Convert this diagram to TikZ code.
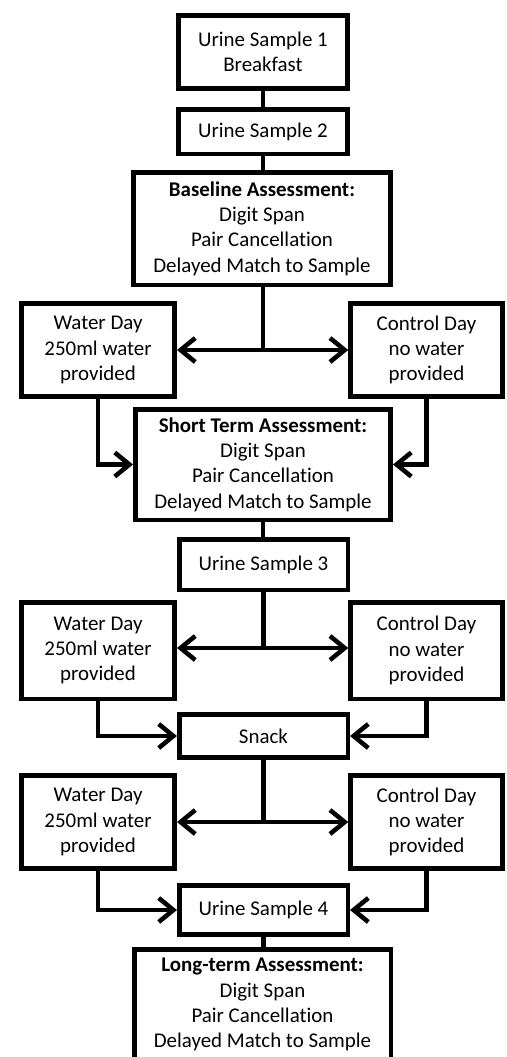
\documentclass[tikz,border=0pt]{standalone}
\usepackage{fontspec}
\setmainfont{Carlito}[Ligatures=NoCommon]
\usetikzlibrary{arrows.meta}
\begin{document}
\begin{tikzpicture}[x=0.75pt,y=-0.75pt,
  box/.style={draw=black, line width=3.4pt, align=center, inner sep=2pt,
    font=\fontsize{15.7pt}{19pt}\selectfont, text=black},
  conn/.style={line width=3.4pt, draw=black},
  arr/.style={conn, -{Straight Barb[length=11pt,width=18pt,line width=3.4pt]}}]
\useasboundingbox (0,0) rectangle (507,1057);
% nodes
\node[box, minimum width=127.1pt, minimum height=55.1pt] (n1) at (263,52) {Urine Sample 1\\Breakfast};
\node[box, minimum width=127.1pt, minimum height=33.4pt] (n2) at (263,131.5) {Urine Sample 2};
\node[box, minimum width=193.1pt, minimum height=84.4pt] (base) at (262,228.5) {\textbf{Baseline Assessment:}\\Digit Span\\Pair Cancellation\\Delayed Match to Sample};
\node[box, minimum width=115.1pt, minimum height=69.4pt] (w1) at (98,350) {Water Day\\250ml water\\provided};
\node[box, minimum width=114pt, minimum height=69.4pt] (c1) at (426.5,350) {Control Day\\no water\\provided};
\node[box, minimum width=191.6pt, minimum height=82.9pt] (short) at (263,464.5) {\textbf{Short Term Assessment:}\\Digit Span\\Pair Cancellation\\Delayed Match to Sample};
\node[box, minimum width=126.4pt, minimum height=37.9pt] (us3) at (263.5,564.5) {Urine Sample 3};
\node[box, minimum width=115.1pt, minimum height=72.4pt] (w2) at (98,650.5) {Water Day\\250ml water\\provided};
\node[box, minimum width=114pt, minimum height=72.4pt] (c2) at (426.5,650.5) {Control Day\\no water\\provided};
\node[box, minimum width=126.4pt, minimum height=32.6pt] (snack) at (263.5,736) {Snack};
\node[box, minimum width=115.1pt, minimum height=70.1pt] (w3) at (98,822) {Water Day\\250ml water\\provided};
\node[box, minimum width=114pt, minimum height=70.1pt] (c3) at (426.5,822) {Control Day\\no water\\provided};
\node[box, minimum width=126.4pt, minimum height=37.1pt] (us4) at (263.5,910) {Urine Sample 4};
\node[box, minimum width=192.4pt, minimum height=83pt, anchor=north] (long) at (262.5,947) {\textbf{Long-term Assessment:}\\Digit Span\\Pair Cancellation\\Delayed Match to Sample};
% straight connectors
\draw[conn] (n1.south) -- (n1.south |- n2.north);
\draw[conn] (n2.south) -- (n2.south |- base.north);
\draw[conn] (short.south) -- (short.south |- us3.north);
\draw[conn] (us4.south) -- (us4.south |- long.north);
% group 1
\coordinate (j1) at (short.north |- w1.east);
\draw[conn] (short.north |- base.south) -- (j1);
\draw[arr] (j1) -- (w1.east);
\draw[arr] (j1) -- (c1.west);
\draw[arr] (w1.south) |- (short.west);
\draw[arr] (c1.south) |- (short.east);
% group 2
\coordinate (j2) at (us3.south |- 0,648);
\draw[conn] (us3.south) -- (j2);
\draw[arr] (j2) -- (w2.east |- j2);
\draw[arr] (j2) -- (c2.west |- j2);
\draw[arr] (w2.south) |- (snack.west);
\draw[arr] (c2.south) |- (snack.east);
% group 3
\coordinate (j3) at (snack.south |- w3.east);
\draw[conn] (snack.south) -- (j3);
\draw[arr] (j3) -- (w3.east);
\draw[arr] (j3) -- (c3.west);
\draw[arr] (w3.south) |- (us4.west);
\draw[arr] (c3.south) |- (us4.east);
\end{tikzpicture}
\end{document}
